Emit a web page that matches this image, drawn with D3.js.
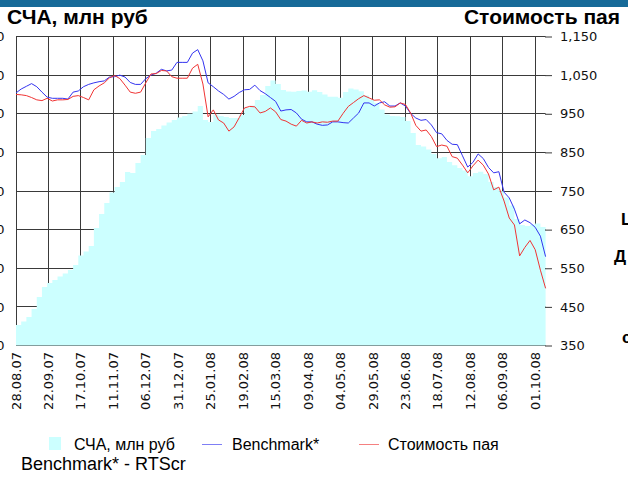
<!DOCTYPE html>
<html>
<head>
<meta charset="utf-8">
<script src="https://cdn.jsdelivr.net/npm/d3@7"></script>
<style>
  body { margin: 0; background: #fff; }
  svg { display: block; }
  .axisText { font-family: "DejaVu Sans", sans-serif; font-size: 13px; fill: #111; }
</style>
</head>
<body>
<div class="chart"></div>
<script>
var svgWidth = 628;
var svgHeight = 477;

// plot box
var plot = { left: 16, right: 545.6, top: 36.5, bottom: 345.5 };

// every 4 days, 28.08.07 .. 09.10.08
var dates = [
  "2007-08-28","2007-09-01","2007-09-05","2007-09-09","2007-09-13","2007-09-17","2007-09-21","2007-09-25","2007-09-29",
  "2007-10-03","2007-10-07","2007-10-11","2007-10-15","2007-10-19","2007-10-23","2007-10-27","2007-10-31",
  "2007-11-04","2007-11-08","2007-11-12","2007-11-16","2007-11-20","2007-11-24","2007-11-28",
  "2007-12-02","2007-12-06","2007-12-10","2007-12-14","2007-12-18","2007-12-22","2007-12-26","2007-12-30",
  "2008-01-03","2008-01-07","2008-01-11","2008-01-15","2008-01-19","2008-01-23","2008-01-27","2008-01-31",
  "2008-02-04","2008-02-08","2008-02-12","2008-02-16","2008-02-20","2008-02-24","2008-02-28",
  "2008-03-03","2008-03-07","2008-03-11","2008-03-15","2008-03-19","2008-03-23","2008-03-27","2008-03-31",
  "2008-04-04","2008-04-08","2008-04-12","2008-04-16","2008-04-20","2008-04-24","2008-04-28",
  "2008-05-02","2008-05-06","2008-05-10","2008-05-14","2008-05-18","2008-05-22","2008-05-26","2008-05-30",
  "2008-06-03","2008-06-07","2008-06-11","2008-06-15","2008-06-19","2008-06-23","2008-06-27",
  "2008-07-01","2008-07-05","2008-07-09","2008-07-13","2008-07-17","2008-07-21","2008-07-25","2008-07-29",
  "2008-08-02","2008-08-06","2008-08-10","2008-08-14","2008-08-18","2008-08-22","2008-08-26","2008-08-30",
  "2008-09-03","2008-09-07","2008-09-11","2008-09-15","2008-09-19","2008-09-23","2008-09-27",
  "2008-10-01","2008-10-05","2008-10-09"
];

// СЧА, млн руб (left axis)
var navValues = [
  265, 311, 369, 472, 628, 757, 809, 848, 893, 932,
  977, 1042, 1165, 1217, 1288, 1521, 1702, 1845, 1981, 2052,
  2117, 2246, 2233, 2362, 2466, 2686, 2777, 2803, 2848, 2887,
  2919, 2951, 2971, 3001, 3029, 3100, 2919, 2893, 2990, 2971,
  2958, 2945, 2945, 2984, 3074, 3107, 3178, 3243, 3359, 3430,
  3385, 3307, 3288, 3285, 3295, 3301, 3285, 3304, 3282, 3249,
  3221, 3221, 3206, 3282, 3327, 3315, 3292, 3236, 3184, 3139,
  3055, 2990, 2971, 2968, 2958, 2906, 2751, 2595, 2576, 2537,
  2479, 2423, 2440, 2375, 2333, 2299, 2265, 2192, 2233, 2250,
  2220, 2117, 2052, 1996, 1916, 1812, 1638, 1560, 1547, 1566,
  1579, 1534, 1430
];

// Benchmark* (right axis)
var benchValues = [
  1004, 1014, 1021, 1028, 1020, 1006, 993, 990, 990, 990,
  988, 1006, 1009, 1020, 1026, 1030, 1033, 1035, 1045, 1046,
  1050, 1045, 1031, 1026, 1026, 1041, 1050, 1055, 1065, 1061,
  1063, 1083, 1083, 1083, 1107, 1116, 1087, 1030, 1020, 1009,
  1000, 988, 995, 1005, 1012, 1013, 1024, 1010, 1002, 992,
  982, 957, 960, 961, 952, 936, 929, 929, 923, 920,
  921, 929, 929, 927, 926, 939, 952, 978, 978, 970,
  978, 981, 970, 970, 978, 970, 951, 939, 933, 935,
  921, 901, 898, 881, 871, 870, 841, 812, 824, 846,
  834, 811, 797, 800, 747, 732, 703, 665, 675, 668,
  656, 633, 580
];

// Стоимость пая (right axis)
var unitValues = [
  1000, 999, 997, 992, 986, 984, 990, 983, 986, 986,
  987, 995, 997, 992, 986, 1012, 1022, 1030, 1043, 1049,
  1041, 1024, 1006, 1003, 1006, 1030, 1053, 1054, 1062, 1061,
  1046, 1042, 1042, 1042, 1068, 1078, 1027, 942, 960, 934,
  926, 905, 916, 940, 965, 969, 968, 952, 956, 965,
  955, 935, 931, 923, 918, 933, 926, 929, 926, 929,
  928, 931, 931, 951, 969, 979, 989, 997, 991, 985,
  986, 973, 967, 968, 978, 974, 952, 920, 905, 908,
  891, 865, 869, 866, 839, 835, 817, 797, 815, 830,
  817, 794, 753, 760, 724, 680, 662, 582, 604, 622,
  598, 545, 498
];

var xTickLabels = ["28.08.07","22.09.07","17.10.07","11.11.07","06.12.07","31.12.07","25.01.08","19.02.08",
  "15.03.08","09.04.08","04.05.08","29.05.08","23.06.08","18.07.08","12.08.08","06.09.08","01.10.08"];
var leftTicks = [0, 500, 1000, 1500, 2000, 2500, 3000, 3500, 4000];
var rightTicks = [350, 450, 550, 650, 750, 850, 950, 1050, 1150];

var parseDate = d3.utcParse("%Y-%m-%d");
var parseTick = d3.utcParse("%d.%m.%y");

var data = dates.map(function(d, i) {
  return { date: parseDate(d), nav: navValues[i], bench: benchValues[i], unit: unitValues[i] };
});

var svg = d3.select(".chart")
  .append("svg")
  .attr("width", svgWidth)
  .attr("height", svgHeight);

var xScale = d3.scaleUtc()
  .domain([parseDate(dates[0]), parseDate(dates[dates.length - 1])])
  .range([plot.left, plot.right]);

var yLeft = d3.scaleLinear().domain([0, 4000]).range([plot.bottom, plot.top]);
var yRight = d3.scaleLinear().domain([350, 1150]).range([plot.bottom, plot.top]);

var snap = function(v) { return Math.round(v - 0.5) + 0.5; };

// top band
svg.append("rect")
  .attr("x", 0).attr("y", 0)
  .attr("width", svgWidth).attr("height", 7)
  .attr("fill", "#166a98");

// titles
svg.append("text")
  .attr("x", 7).attr("y", 24)
  .style("font-family", "'Liberation Sans', Arial, sans-serif")
  .style("font-size", "21px").style("font-weight", "bold")
  .text("СЧА, млн руб");

svg.append("text")
  .attr("x", 620).attr("y", 24)
  .attr("text-anchor", "end")
  .style("font-family", "'Liberation Sans', Arial, sans-serif")
  .style("font-size", "21px").style("font-weight", "bold")
  .text("Стоимость пая");

// gridlines
var grid = svg.append("g").attr("stroke", "#3a3a3a").attr("stroke-width", 1);

grid.selectAll("line.h")
  .data(rightTicks)
  .enter()
  .append("line")
  .attr("x1", plot.left)
  .attr("x2", plot.right)
  .attr("y1", d => snap(yRight(d)))
  .attr("y2", d => snap(yRight(d)));

grid.selectAll("line.v")
  .data(xTickLabels)
  .enter()
  .append("line")
  .attr("x1", d => snap(xScale(parseTick(d))))
  .attr("x2", d => snap(xScale(parseTick(d))))
  .attr("y1", plot.top)
  .attr("y2", plot.bottom);

// area СЧА
var area = d3.area()
  .x(d => xScale(d.date))
  .y0(yLeft(0))
  .y1(d => yLeft(d.nav))
  .curve(d3.curveStepAfter);

svg.append("path")
  .datum(data)
  .attr("d", area)
  .attr("fill", "#ccffff");

// lines
var benchLine = d3.line().x(d => xScale(d.date)).y(d => yRight(d.bench));
var unitLine = d3.line().x(d => xScale(d.date)).y(d => yRight(d.unit));

svg.append("path")
  .datum(data)
  .attr("d", benchLine)
  .attr("fill", "none")
  .attr("stroke", "#3434f0")
  .attr("stroke-width", 1);

svg.append("path")
  .datum(data)
  .attr("d", unitLine)
  .attr("fill", "none")
  .attr("stroke", "#f03434")
  .attr("stroke-width", 1);

// left axis (labels mostly cut off at the page edge, as in the source)
var leftAxis = svg.append("g")
  .attr("transform", `translate(${plot.left}, 0)`)
  .call(d3.axisLeft(yLeft).tickValues(leftTicks).tickSize(0).tickPadding(11.5).tickFormat(d3.format(",")));
leftAxis.select(".domain").remove();
leftAxis.selectAll("text").attr("class", "axisText");

// right axis
var rightAxis = svg.append("g")
  .attr("transform", `translate(${plot.right - 0.6}, 0)`)
  .call(d3.axisRight(yRight).tickValues(rightTicks).tickSize(7).tickPadding(8).tickFormat(d3.format(",")));
rightAxis.select(".domain").remove();
rightAxis.selectAll("line").attr("stroke", "#3a3a3a");
rightAxis.selectAll("text").attr("class", "axisText");

// x labels, rotated
svg.append("g")
  .selectAll("text")
  .data(xTickLabels)
  .enter()
  .append("text")
  .attr("class", "axisText")
  .attr("transform", d => `translate(${xScale(parseTick(d))}, 352) rotate(-90)`)
  .attr("text-anchor", "end")
  .attr("dy", "0.35em")
  .text(d => d);

// legend
var legend = svg.append("g")
  .style("font-family", "'Liberation Sans', Arial, sans-serif")
  .style("font-size", "16px");

legend.append("rect")
  .attr("x", 49).attr("y", 437).attr("width", 12).attr("height", 13)
  .attr("fill", "#ccffff");
legend.append("text").attr("x", 74).attr("y", 450).text("СЧА, млн руб");

legend.append("line")
  .attr("x1", 202).attr("x2", 222).attr("y1", 444.5).attr("y2", 444.5)
  .attr("stroke", "#7f7ff5").attr("stroke-width", 1);
legend.append("text").attr("x", 232).attr("y", 450).text("Benchmark*");

legend.append("line")
  .attr("x1", 359).attr("x2", 379).attr("y1", 444.5).attr("y2", 444.5)
  .attr("stroke", "#f58080").attr("stroke-width", 1);
legend.append("text").attr("x", 388).attr("y", 450).text("Стоимость пая");

svg.append("text")
  .attr("x", 21).attr("y", 470)
  .style("font-family", "'Liberation Sans', Arial, sans-serif")
  .style("font-size", "18px")
  .text("Benchmark* - RTScr");

// clipped side text at the right edge
var side = svg.append("g")
  .style("font-family", "'Liberation Sans', Arial, sans-serif")
  .style("font-size", "17px").style("font-weight", "bold");
side.append("text").attr("x", 621).attr("y", 225).text("Ц");
side.append("text").attr("x", 614).attr("y", 262).text("Д");
side.append("text").attr("x", 622).attr("y", 343).text("с");
</script>
</body>
</html>
